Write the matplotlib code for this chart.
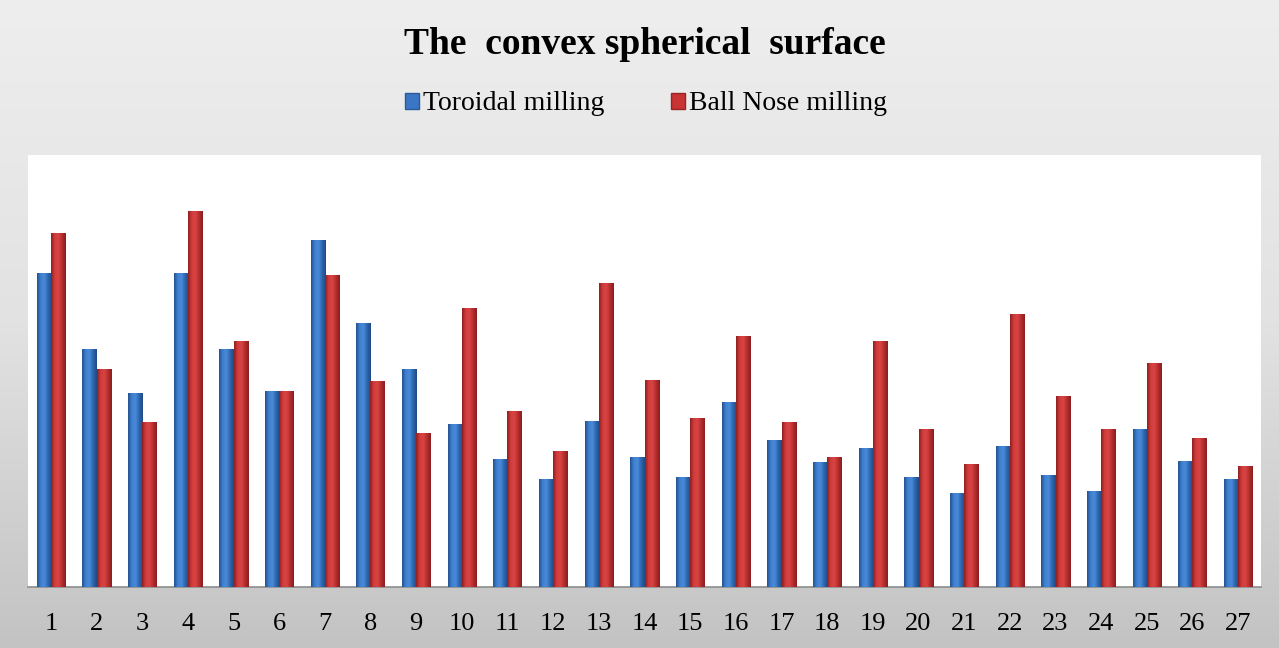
import numpy as np
import matplotlib.pyplot as plt
from matplotlib.patches import Patch
from matplotlib.colors import LinearSegmentedColormap

# data (arbitrary units)
categories = [str(i) for i in range(1, 28)]
toroidal = [3.14, 2.38, 1.94, 3.14, 2.38, 1.96, 3.47, 2.64, 2.18, 1.63, 1.28, 1.08, 1.66, 1.30,
            1.10, 1.85, 1.47, 1.25, 1.39, 1.10, 0.94, 1.41, 1.12, 0.96, 1.58, 1.26, 1.08]
ball_nose = [3.54, 2.18, 1.65, 3.76, 2.46, 1.96, 3.12, 2.06, 1.54, 2.79, 1.76, 1.36, 3.04, 2.07,
             1.69, 2.51, 1.65, 1.30, 2.46, 1.58, 1.23, 2.73, 1.91, 1.58, 2.24, 1.49, 1.21]

plt.rcParams['font.family'] = ['Liberation Serif', 'DejaVu Serif']

fig = plt.figure(figsize=(12.79, 6.48), dpi=100)

# gray gradient background
bg = fig.add_axes([0, 0, 1, 1], zorder=-10)
grad = np.linspace(0, 1, 256).reshape(-1, 1)
bg_cmap = LinearSegmentedColormap.from_list('bg', ['#eeeeee', '#e2e2e2', '#c3c3c3'])
bg.imshow(grad, aspect='auto', cmap=bg_cmap, extent=[0, 1, 0, 1], origin='upper')
bg.axis('off')

ax = fig.add_axes([28 / 1279, 61 / 648, 1233 / 1279, 432 / 648])
ax.set_facecolor('white')

x = np.arange(len(categories))
w = 0.31
b1 = ax.bar(x - w / 2, toroidal, w, color='#3a76c4', zorder=2)
b2 = ax.bar(x + w / 2, ball_nose, w, color='#c83434', zorder=2)

blue_cmap = LinearSegmentedColormap.from_list('b', ['#23518f', '#3f80d0', '#4a8ad8', '#2d66ad', '#1f4a85'])
red_cmap = LinearSegmentedColormap.from_list('r', ['#8f2020', '#d23c3c', '#d84444', '#b42d2d', '#8a1e1e'])
hgrad = np.linspace(0, 1, 64).reshape(1, -1)
for bars, cm in [(b1, blue_cmap), (b2, red_cmap)]:
    for p in bars:
        x0, y0 = p.get_x(), p.get_y()
        im = ax.imshow(hgrad, aspect='auto', cmap=cm,
                       extent=[x0, x0 + p.get_width(), y0, y0 + p.get_height()], zorder=3)
        im.set_clip_path(p)

ax.set_xlim(-0.5, len(categories) - 0.5)
ax.set_ylim(0, 4.32)
ax.set_xticks(x)
ax.set_xticklabels(categories, fontsize=19)
ax.tick_params(axis='x', length=0, pad=19)
ax.set_yticks([])
for s in ['left', 'right', 'top']:
    ax.spines[s].set_visible(False)
ax.spines['bottom'].set_color('#8c8c8c')
ax.spines['bottom'].set_linewidth(1.2)

fig.text(0.504, 1 - 54 / 648, 'The  convex spherical  surface', ha='center', va='baseline',
         fontsize=27, fontweight='bold')

handles = [Patch(facecolor='#3a76c4', edgecolor='#2a5a9a'),
           Patch(facecolor='#c83434', edgecolor='#9a2424')]
fig.legend(handles, ['Toroidal milling', 'Ball Nose milling'], loc='center',
           bbox_to_anchor=(646 / 1279, 1 - 104 / 648), ncol=2, frameon=False, fontsize=20,
           handlelength=0.5, handleheight=0.5, handletextpad=0.15, columnspacing=2.4)

fig.savefig('out.png', dpi=100)
